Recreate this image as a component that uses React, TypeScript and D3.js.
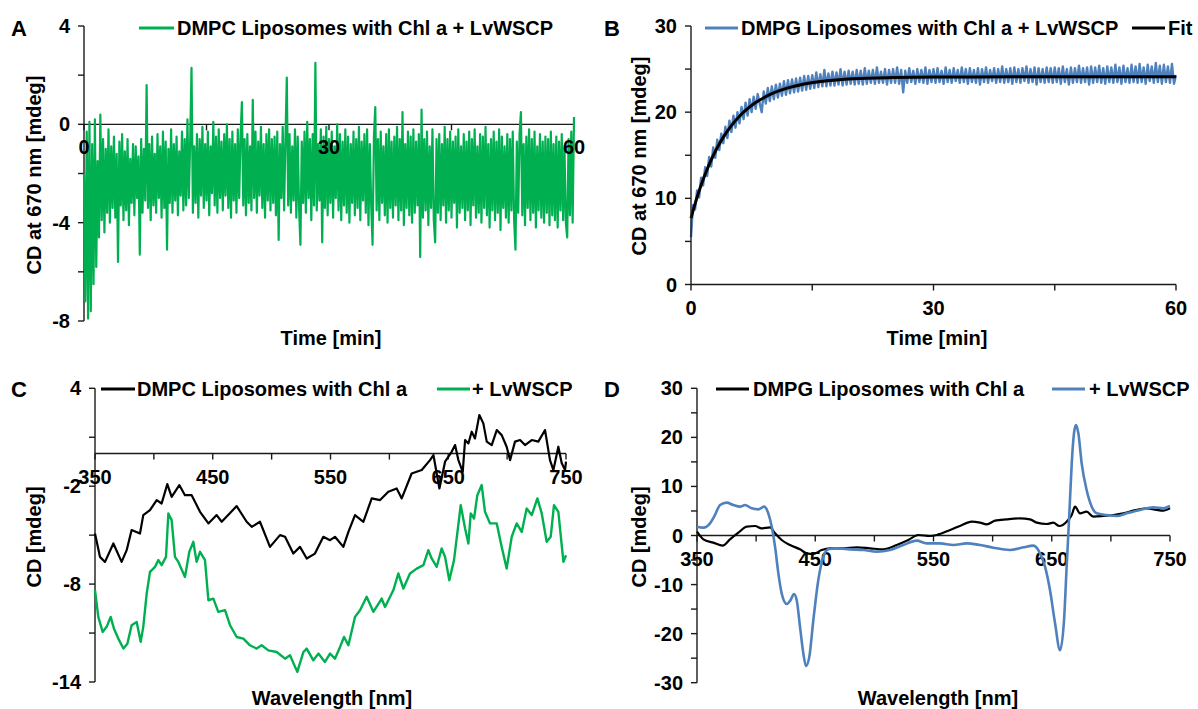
import React from 'react';
import * as d3 from 'd3';

const GREEN = '#00B050';
const BLUE = '#4F81BD';
const FONT = '"Liberation Sans", Arial, Helvetica, sans-serif';

// ---------- Panel A: DMPC liposomes + LvWSCP, CD at 670 nm vs time (0..60 min, evenly sampled)
const cdA = [
  -2.0, -7.2, -0.3, -7.9, 0.1, -7.6, -0.8, -6.5, 0.2, -5.8, -1.5, -4.6, 0.4, -3.9, -0.6, -4.4, -1.0, -3.6, -0.2, -4.0,
  -0.9, -3.4, -0.5, -3.8, -1.2, -5.6, -0.7, -3.3, -0.4, -3.9, -1.1, -3.5, -0.6, -4.1, -1.4, -3.2, -0.8, -3.7, -0.9, -3.0,
  -1.3, -5.3, -0.6, -3.6, -1.0, -3.1, 1.6, -3.4, -0.8, -3.9, -0.5, -3.3, -1.2, -3.6, -0.4, -3.0, -0.9, -3.8, -0.3, -3.4,
  -0.7, -5.1, -1.0, -3.2, -0.2, -3.6, -0.8, -3.1, -0.5, -3.7, -1.1, -2.9, -0.3, -3.5, -0.6, -3.3, 0.2, -3.0, -0.7, 2.3,
  -3.6, -0.9, -3.2, -0.4, -3.8, -0.6, -2.9, -0.1, -3.4, -0.8, -3.1, -0.3, -3.7, -0.9, -2.8, 0.1, -3.3, -0.5, -3.6, -0.2,
  -3.0, -0.7, -3.5, -0.4, -2.9, 0.0, -3.4, -0.6, -3.8, -0.3, -3.1, -0.8, -3.6, -0.2, -3.0, -0.5, 0.9, -3.3, -0.6, -3.7,
  -0.4, -3.2, -0.9, -3.5, 1.0, -3.0, -0.3, -3.6, -0.7, -2.9, -0.1, -3.4, -0.8, -3.8, -0.4, -3.1, -0.2, -3.5, -0.6, -3.2,
  -0.5, -3.7, -0.3, -4.7, -0.8, -3.0, -0.1, -3.5, -0.6, 1.9, -3.3, -0.4, -3.6, -0.9, -3.1, -0.2, -3.8, -0.5, -3.4, -4.9,
  -0.7, -3.2, -0.3, -3.6, 0.1, -3.0, -0.6, -3.9, -0.4, -3.3, 2.5, -3.5, -0.8, -3.1, -0.2, -4.8, -0.5, -3.4, -0.1, -3.7,
  -0.6, -3.2, -0.3, -3.8, -0.9, -3.0, 0.0, -3.5, -0.4, -3.9, -0.7, -3.3, -0.2, -3.6, -0.5, -4.0, -0.8, -3.2, -0.3, -3.7,
  -0.6, -3.4, -0.1, -3.9, -0.7, -3.1, -0.4, -3.6, -0.2, -4.1, -0.8, -3.3, -4.9, -0.5, 0.7, -3.5, -0.6, -3.9, -0.3, -3.2,
  -0.9, -3.7, -0.4, -4.0, -0.2, -3.4, -0.7, -3.8, -0.5, -3.3, -0.1, -3.9, -0.6, -3.5, 0.5, -4.1, -0.8, -3.4, -0.3, -3.7,
  -0.5, -4.0, -0.2, -3.6, -0.7, -3.3, -0.4, -5.4, 0.6, -3.8, -0.6, -3.5, -0.3, -4.1, -0.9, -3.4, -0.2, -3.9, -4.8, -0.6,
  -3.6, -0.4, -3.9, -0.8, -3.3, -0.1, -4.0, -0.6, -3.5, -0.3, -3.8, -0.7, -3.2, -0.5, -4.2, -0.2, -3.6, -0.9, -3.4, -0.4,
  -3.9, -0.7, -3.5, -0.3, -4.1, -0.6, -3.3, -0.2, -3.8, -0.9, -3.6, -0.4, -4.0, -0.5, -3.4, -0.1, -3.7, -0.8, -4.2, -0.6,
  -3.5, -0.3, -3.9, -0.7, -3.6, -0.2, -4.3, -0.5, -3.4, -0.9, -3.8, -0.4, -4.0, -0.6, -3.5, -0.3, -3.9, -5.1, -0.7, -3.6,
  -0.4, 0.5, -3.7, -0.8, -4.1, -0.5, -3.4, -0.2, -3.9, -0.6, -3.6, -0.3, -4.2, -0.9, -3.5, -0.4, -3.8, -0.7, -4.0, -0.5,
  -3.6, -0.6, -4.1, -0.3, -3.7, -0.8, -3.9, -0.5, -4.2, -0.7, -3.5, -0.4, -3.9, -0.9, -4.0, -4.6, -0.6, -3.7, -0.3, -4.0,
  0.3,
];
const aYLabels = [4, 0, -4, -8];
const aYTicks = [4, 2, 0, -2, -4, -6, -8];
const aXLabels = [0, 30, 60];
const aXTicks = [0, 15, 30, 45, 60];

// ---------- Panel B: DMPG liposomes + LvWSCP, CD at 670 nm vs time (0..60 min, evenly sampled)
const cdB = [
  5.5, 9.2, 8.7, 10.9, 10.1, 12.4, 11.5, 13.6, 12.6, 14.8, 13.7, 15.9, 14.7, 16.8, 15.6, 17.5, 16.4, 18.3, 17.0, 19.0,
  17.7, 19.6, 18.2, 20.0, 18.7, 20.6, 19.2, 21.1, 19.6, 21.5, 20.0, 21.8, 20.4, 22.1, 21.0, 20.0, 22.4, 21.0, 22.8, 21.3,
  23.0, 21.5, 23.2, 21.7, 23.3, 21.9, 23.6, 22.0, 23.7, 22.2, 23.8, 22.3, 23.9, 22.4, 24.0, 22.5, 24.2, 22.6, 24.2, 22.7,
  24.3, 22.8, 24.6, 22.9, 24.4, 23.0, 24.9, 23.0, 24.5, 23.1, 24.7, 23.1, 24.6, 23.2, 25.0, 23.1, 24.7, 23.2, 24.8, 23.3,
  24.7, 23.2, 24.9, 23.3, 24.8, 23.2, 25.1, 23.3, 24.8, 23.4, 24.9, 23.3, 25.2, 23.4, 24.7, 23.4, 25.0, 23.2, 24.9, 23.4,
  25.0, 23.4, 25.2, 23.3, 24.9, 22.3, 24.8, 23.4, 25.1, 23.5, 24.8, 23.3, 25.0, 23.5, 24.9, 23.4, 25.2, 23.3, 24.9, 23.5,
  25.0, 23.4, 25.1, 23.5, 24.8, 23.3, 25.2, 23.5, 24.9, 23.4, 25.1, 23.6, 24.9, 23.4, 25.2, 23.5, 25.0, 23.3, 25.1, 23.5,
  24.9, 23.4, 25.1, 23.2, 25.0, 23.5, 25.2, 23.4, 24.9, 23.6, 25.1, 23.4, 25.0, 23.5, 25.3, 23.4, 25.0, 23.5, 25.1, 23.3,
  25.2, 23.5, 25.0, 23.4, 25.1, 23.6, 25.3, 23.4, 25.0, 23.5, 25.2, 23.2, 25.1, 23.5, 25.0, 23.4, 25.2, 23.5, 25.1, 23.4,
  25.2, 23.5, 25.1, 23.3, 25.3, 23.5, 25.0, 23.2, 25.2, 23.4, 25.1, 23.5, 25.4, 23.4, 25.1, 23.5, 25.2, 23.2, 25.3, 23.4,
  25.2, 23.5, 25.4, 23.4, 25.1, 23.3, 25.3, 23.5, 25.2, 23.4, 25.5, 23.5, 25.2, 23.3, 25.4, 23.5, 25.1, 23.4, 25.5, 23.5,
  25.3, 23.4, 25.6, 23.5, 25.2, 23.3, 25.5, 23.6, 25.3, 23.4, 25.7, 23.5, 25.4, 23.3, 25.5, 23.5, 25.3, 23.4, 25.6, 23.3,
  24.3,
];
const fitTime = [0, 0.5, 1, 1.5, 2, 2.5, 3, 3.5, 4, 5, 6, 7, 8, 9, 10, 12, 14, 16, 18, 20, 25, 30, 40, 50, 60];
const fitCD = [7.7, 9.35, 10.84, 12.18, 13.38, 14.47, 15.44, 16.31, 17.1, 18.44, 19.52, 20.4, 21.11, 21.68, 22.15, 22.82, 23.27, 23.56, 23.74, 23.87, 24.02, 24.08, 24.1, 24.1, 24.1];
const bYLabels = [30, 20, 10, 0];
const bYTicks = [30, 25, 20, 15, 10, 5, 0];
const bXLabels = [0, 30, 60];
const bXTicks = [0, 15, 30, 45, 60];

// ---------- Panel C: DMPC spectra [wavelength nm, CD mdeg]
const specC_chl: [number, number][] = [
  [350, -4.9], [354.2, -6.33], [358.5, -6.64], [365.6, -5.51], [372.6, -6.64], [376.9, -5.92], [381.1, -4.69],
  [388.2, -4.9], [391.0, -3.77], [396.7, -3.47], [402.4, -2.85], [406.6, -3.06], [411.4, -1.87], [415.1, -2.65],
  [421.6, -1.93], [426.4, -2.55], [432.1, -2.55], [439.2, -3.57], [446.3, -4.28], [453.3, -3.77], [457.6, -4.18],
  [470.3, -3.22], [478.8, -4.18], [483.1, -4.49], [490.1, -4.18], [498.6, -5.72], [507.1, -5.0], [511.4, -5.1],
  [518.4, -6.13], [524.1, -5.72], [529.8, -6.43], [536.8, -6.13], [543.9, -5.1], [549.6, -5.31], [553.8, -5.1],
  [560.9, -5.72], [565.2, -4.8], [570.8, -3.77], [577.9, -4.18], [585.0, -2.75], [592.1, -2.85], [599.1, -2.34],
  [606.2, -2.14], [610.5, -2.75], [618.9, -1.22], [627.5, -1.01], [634.5, -0.4], [637.4, -0.09], [642.5, -2.14],
  [647.3, -0.5], [652.9, 0.11], [655.8, 0.52], [658.6, -0.4], [662.3, -1.12], [664.3, 0.83], [667.1, 0.62],
  [669.9, 1.34], [672.7, 0.93], [676.4, 2.36], [679.8, 1.85], [682.7, 0.73], [686.9, 0.52], [691.2, 1.44],
  [695.4, 1.13], [699.6, 0.42], [702.5, -0.4], [706.7, 0.73], [711.0, 0.83], [715.2, 0.52], [720.9, 0.83],
  [726.5, 0.73], [732.2, 1.44], [736.4, -0.4], [739.3, -1.01], [743.5, 0.42], [746.4, -0.6], [749.2, -1.01], [750, -0.5],
];
const specC_wscp: [number, number][] = [
  [350, -8.37], [352.8, -10.01], [356.5, -10.93], [359.9, -10.62], [363.3, -10.01], [366.1, -10.73], [369.8, -11.34],
  [374.1, -11.95], [377.5, -11.65], [381.1, -10.52], [385.4, -10.32], [388.8, -11.54], [391.0, -10.62], [393.9, -8.58],
  [396.7, -7.25], [401.0, -6.94], [403.8, -6.53], [406.6, -6.84], [410.3, -6.33], [412.3, -3.67], [415.1, -4.08],
  [417.9, -6.33], [420.8, -6.64], [426.4, -7.56], [430.1, -6.02], [433.5, -5.41], [436.3, -6.64], [439.2, -6.02],
  [443.4, -6.53], [446.3, -8.99], [450.5, -8.89], [454.7, -9.7], [460.4, -9.6], [464.7, -10.52], [470.3, -11.24],
  [476.0, -11.34], [481.6, -11.75], [487.3, -11.95], [491.5, -11.75], [497.2, -12.06], [504.3, -12.16], [511.4, -12.57],
  [515.6, -12.36], [521.8, -13.38], [527.0, -12.16], [529.8, -11.95], [535.4, -12.67], [539.7, -12.26], [545.3, -12.77],
  [549.6, -12.26], [553.8, -12.57], [558.1, -11.85], [561.5, -11.24], [565.2, -11.75], [570.8, -10.01], [575.1, -9.6],
  [580.7, -8.78], [586.4, -9.7], [593.5, -8.89], [596.3, -9.4], [600.6, -8.78], [603.4, -8.37], [607.6, -7.35],
  [611.9, -8.27], [617.5, -7.35], [623.2, -7.05], [628.9, -6.84], [633.1, -5.92], [635.9, -6.43], [640.2, -6.94],
  [644.4, -5.82], [647.3, -6.33], [650.9, -7.76], [654.9, -6.53], [660.6, -3.16], [664.3, -4.59], [667.1, -5.51],
  [669.1, -3.67], [671.9, -3.98], [674.7, -2.55], [678.4, -1.93], [681.2, -3.57], [685.5, -4.28], [691.2, -4.28],
  [695.4, -5.72], [699.6, -7.05], [703.9, -5.1], [708.1, -4.28], [712.4, -4.8], [716.6, -3.37], [720.9, -3.77],
  [725.7, -2.75], [729.4, -3.67], [733.6, -5.41], [737.0, -5.1], [739.8, -3.16], [743.5, -3.57], [747.8, -6.64], [750, -6.23],
];
const cYLabels = [4, -2, -8, -14];
const cYTicks = [4, 1, -2, -5, -8, -11, -14];
const wlLabels = [350, 450, 550, 650, 750];
const wlTicks = [350, 400, 450, 500, 550, 600, 650, 700, 750];

// ---------- Panel D: DMPG spectra [wavelength nm, CD mdeg]
const specD_chl: [number, number][] = [
  [350, 0.78], [355.4, -0.78], [363.8, -1.46], [371.7, -2.07], [377.9, -0.78], [385.0, 0.58], [392.0, 1.8],
  [399.1, 1.94], [404.7, 1.46], [411.8, 1.67], [416.0, 0.44], [421.6, -0.92], [428.7, -1.93], [437.1, -2.82],
  [442.8, -3.63], [448.4, -3.77], [455.4, -2.95], [462.5, -2.61], [473.8, -2.61], [485.1, -2.41], [496.3, -2.61],
  [507.6, -2.82], [518.9, -1.93], [528.7, -0.92], [537.2, 0.1], [547.1, -0.1], [552.7, 0.1], [564.0, 1.12],
  [572.4, 1.94], [582.3, 2.82], [589.3, 2.62], [595.0, 2.28], [602.0, 3.02], [611.9, 3.3], [623.2, 3.5],
  [631.6, 3.3], [637.3, 2.62], [645.7, 2.34], [651.3, 2.62], [656.4, 1.94], [662.6, 2.82], [666.9, 4.18],
  [669.7, 5.88], [673.9, 4.52], [679.5, 4.86], [685.2, 3.84], [693.6, 3.97], [702.1, 4.18], [710.5, 4.52],
  [719.0, 5.06], [730.3, 5.54], [738.7, 5.2], [744.4, 5.06], [750, 5.54],
];
const specD_wscp: [number, number][] = [
  [350, 1.8], [355.4, 1.6], [361.0, 2.48], [365.2, 4.18], [369.5, 6.22], [375.1, 6.69], [380.7, 6.22],
  [386.4, 5.88], [390.6, 6.22], [396.3, 5.54], [401.9, 5.33], [406.7, 5.88], [410.3, 4.52], [413.2, 1.8],
  [416.0, -2.28], [418.8, -7.71], [421.6, -11.79], [425.9, -13.96], [429.2, -13.14], [432.0, -11.92],
  [434.3, -13.14], [437.1, -18.58], [439.9, -24.01], [442.2, -26.59], [445.0, -24.69], [448.4, -17.22],
  [452.6, -9.07], [456.9, -4.31], [461.1, -2.82], [468.1, -2.61], [479.4, -2.82], [490.7, -2.95], [502.0, -3.29],
  [513.2, -2.95], [524.5, -1.93], [535.8, -1.05], [544.2, -1.6], [555.5, -1.6], [566.8, -1.93], [578.0, -1.6],
  [589.3, -1.93], [600.6, -2.48], [614.7, -2.95], [626.0, -2.41], [634.4, -2.07], [640.1, -3.63], [644.3, -6.35],
  [648.5, -11.11], [652.8, -17.9], [657.0, -23.4], [660.4, -17.22], [662.6, -6.35], [664.9, 4.52], [666.9, 14.71],
  [668.8, 20.82], [670.5, 22.52], [672.5, 20.82], [675.3, 14.71], [679.5, 9.27], [683.8, 5.88], [688.0, 4.52],
  [696.5, 4.18], [704.9, 3.97], [713.4, 4.52], [724.6, 5.2], [735.9, 5.74], [744.4, 5.54], [750, 6.01],
];
const dYLabels = [30, 20, 10, 0, -10, -20, -30];
const dYTicks = [30, 25, 20, 15, 10, 5, 0, -5, -10, -15, -20, -25, -30];

const textStyle: React.CSSProperties = { fontFamily: FONT, fontWeight: 700, fontSize: 20 };
const letterStyle: React.CSSProperties = { fontFamily: FONT, fontWeight: 700, fontSize: 22 };
const AX = '#1a1a1a';

function YAxis({ scale, x, ticks, labels }: { scale: d3.ScaleLinear<number, number>; x: number; ticks: number[]; labels: number[] }) {
  const [d0, d1] = scale.domain();
  return (
    <g>
      <line x1={x} x2={x} y1={scale(d0)} y2={scale(d1)} stroke={AX} strokeWidth={1.4} />
      {ticks.map((t) => (
        <line key={'t' + t} x1={x - 6} x2={x} y1={scale(t)} y2={scale(t)} stroke={AX} strokeWidth={1.4} />
      ))}
      {labels.map((t) => (
        <text key={'l' + t} x={x - 14} y={scale(t) + 7} textAnchor="end" style={textStyle}>
          {String(t)}
        </text>
      ))}
    </g>
  );
}

function XAxis({ scale, y, ticks, labels }: { scale: d3.ScaleLinear<number, number>; y: number; ticks: number[]; labels: number[] }) {
  const [d0, d1] = scale.domain();
  return (
    <g>
      <line x1={scale(d0)} x2={scale(d1)} y1={y} y2={y} stroke={AX} strokeWidth={1.4} />
      {ticks.map((t) => (
        <line key={'t' + t} x1={scale(t)} x2={scale(t)} y1={y} y2={y + 6} stroke={AX} strokeWidth={1.4} />
      ))}
      {labels.map((t) => (
        <text key={'l' + t} x={scale(t)} y={y + 30} textAnchor="middle" style={textStyle}>
          {String(t)}
        </text>
      ))}
    </g>
  );
}

export default function App() {
  const xA = d3.scaleLinear().domain([0, 60]).range([84, 574]);
  const yA = d3.scaleLinear().domain([-8, 4]).range([321, 26]);
  const xB = d3.scaleLinear().domain([0, 60]).range([691, 1176]);
  const yB = d3.scaleLinear().domain([0, 30]).range([284.5, 26]);
  const xC = d3.scaleLinear().domain([350, 750]).range([95, 566]);
  const yC = d3.scaleLinear().domain([-14, 4]).range([682, 388.3]);
  const xD = d3.scaleLinear().domain([350, 750]).range([697, 1170]);
  const yD = d3.scaleLinear().domain([-30, 30]).range([682.7, 388.3]);

  const stepA = 60 / (cdA.length - 1);
  const stepB = 60 / (cdB.length - 1);

  const lineA = d3.line<number>().x((_, i) => xA(i * stepA)).y((d) => yA(d));
  const lineB = d3.line<number>().x((_, i) => xB(i * stepB)).y((d) => yB(d));
  const lineFit = d3
    .line<number>()
    .x((_, i) => xB(fitTime[i]))
    .y((d) => yB(d))
    .curve(d3.curveMonotoneX);
  const lineC = d3.line<[number, number]>().x((d) => xC(d[0])).y((d) => yC(d[1]));
  const lineD = d3
    .line<[number, number]>()
    .x((d) => xD(d[0]))
    .y((d) => yD(d[1]))
    .curve(d3.curveMonotoneX);

  return (
    <svg width={1198} height={709} style={{ position: 'absolute', left: 0, top: 0, background: '#fff' }}>
      <rect x={0} y={0} width={1198} height={709} fill="#fff" />

      {/* ---------------- Panel A ---------------- */}
      <text x={11} y={36} style={letterStyle}>A</text>
      <YAxis scale={yA} x={84} ticks={aYTicks} labels={aYLabels} />
      <XAxis scale={xA} y={yA(0)} ticks={aXTicks} labels={[]} />
      <path d={lineA(cdA) || ''} fill="none" stroke={GREEN} strokeWidth={2.2} strokeLinejoin="round" />
      {aXLabels.map((t) => (
        <text key={'ax' + t} x={xA(t)} y={yA(0) + 30} textAnchor="middle" style={textStyle}>{String(t)}</text>
      ))}
      <line x1={139} x2={174} y1={28} y2={28} stroke={GREEN} strokeWidth={3} />
      <text x={177} y={35} style={textStyle}>DMPC Liposomes with Chl a + LvWSCP</text>
      <text transform={`translate(41,175) rotate(-90)`} textAnchor="middle" style={textStyle}>CD at 670 nm [mdeg]</text>
      <text x={331} y={345} textAnchor="middle" style={textStyle}>Time [min]</text>

      {/* ---------------- Panel B ---------------- */}
      <text x={604} y={36} style={letterStyle}>B</text>
      <path d={lineB(cdB) || ''} fill="none" stroke={BLUE} strokeWidth={2.4} strokeLinejoin="round" />
      <path d={lineFit(fitCD) || ''} fill="none" stroke="#000" strokeWidth={3} />
      <YAxis scale={yB} x={691} ticks={bYTicks} labels={bYLabels} />
      <XAxis scale={xB} y={yB(0)} ticks={bXTicks} labels={bXLabels} />
      <line x1={705} x2={738} y1={28} y2={28} stroke={BLUE} strokeWidth={3} />
      <text x={741} y={35} style={textStyle}>DMPG Liposomes with Chl a + LvWSCP</text>
      <line x1={1132} x2={1165} y1={28} y2={28} stroke="#000" strokeWidth={3} />
      <text x={1168} y={35} style={textStyle}>Fit</text>
      <text transform={`translate(646,156) rotate(-90)`} textAnchor="middle" style={textStyle}>CD at 670 nm [mdeg]</text>
      <text x={937} y={345} textAnchor="middle" style={textStyle}>Time [min]</text>

      {/* ---------------- Panel C ---------------- */}
      <text x={11} y={397} style={letterStyle}>C</text>
      <YAxis scale={yC} x={95} ticks={cYTicks} labels={cYLabels} />
      <XAxis scale={xC} y={yC(0)} ticks={wlTicks} labels={wlLabels} />
      <path d={lineC(specC_chl) || ''} fill="none" stroke="#000" strokeWidth={2.2} strokeLinejoin="round" />
      <path d={lineC(specC_wscp) || ''} fill="none" stroke={GREEN} strokeWidth={2.4} strokeLinejoin="round" />
      <line x1={101} x2={135} y1={389} y2={389} stroke="#000" strokeWidth={3} />
      <text x={137} y={396} style={textStyle}>DMPC Liposomes with Chl a</text>
      <line x1={437} x2={470} y1={389} y2={389} stroke={GREEN} strokeWidth={3} />
      <text x={472} y={396} style={textStyle}>+ LvWSCP</text>
      <text transform={`translate(41,537) rotate(-90)`} textAnchor="middle" style={textStyle}>CD [mdeg]</text>
      <text x={332} y={705} textAnchor="middle" style={textStyle}>Wavelength [nm]</text>

      {/* ---------------- Panel D ---------------- */}
      <text x={604} y={397} style={letterStyle}>D</text>
      <YAxis scale={yD} x={697} ticks={dYTicks} labels={dYLabels} />
      <XAxis scale={xD} y={yD(0)} ticks={wlTicks} labels={wlLabels} />
      <path d={lineD(specD_chl) || ''} fill="none" stroke="#000" strokeWidth={2.2} strokeLinejoin="round" />
      <path d={lineD(specD_wscp) || ''} fill="none" stroke={BLUE} strokeWidth={2.6} strokeLinejoin="round" />
      <line x1={716} x2={749} y1={389} y2={389} stroke="#000" strokeWidth={3} />
      <text x={753} y={396} style={textStyle}>DMPG Liposomes with Chl a</text>
      <line x1={1052} x2={1085} y1={389} y2={389} stroke={BLUE} strokeWidth={3} />
      <text x={1089} y={396} style={textStyle}>+ LvWSCP</text>
      <text transform={`translate(646,537) rotate(-90)`} textAnchor="middle" style={textStyle}>CD [mdeg]</text>
      <text x={938} y={705} textAnchor="middle" style={textStyle}>Wavelength [nm]</text>
    </svg>
  );
}
